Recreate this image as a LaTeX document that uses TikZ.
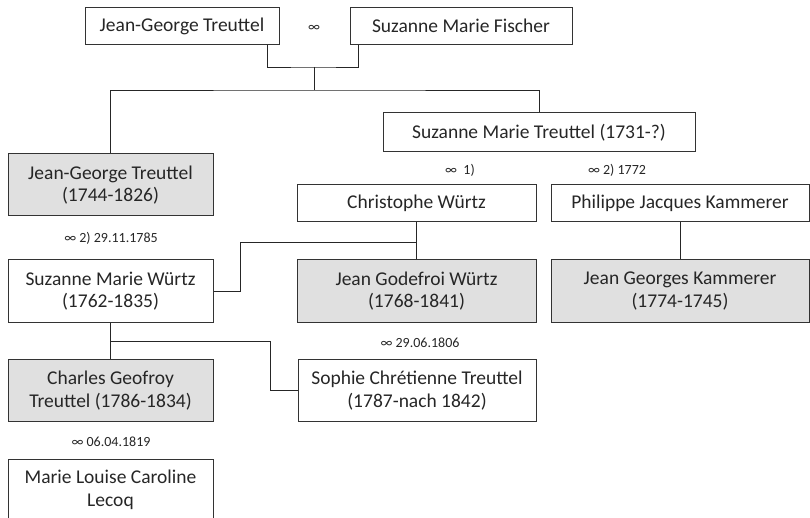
\documentclass[tikz,border=0pt]{standalone}
\usepackage{fontspec}
\setmainfont{Carlito}
\begin{document}
\begin{tikzpicture}[x=1pt,y=-1pt,
      personBox/.style={draw=black!80,line width=1pt,minimum height=37pt,inner sep=0pt,align=center,
        text=black!85,font=\fontsize{19.5}{22.5}\selectfont},
      familyBox/.style={personBox,minimum height=62pt},
      descBox/.style={familyBox,fill=black!12},
      marriageLabel/.style={inner sep=0pt,text=black!85,font=\fontsize{14}{16}\selectfont},
      link/.style={draw=black!85,line width=0.8pt},
    ]
    \useasboundingbox (0,0) rectangle (810,518);
    \clip (0,0) rectangle (810,518);

    % first generation
    \node[personBox,minimum width=194pt] (jgTreuttel) at (182,26) {Jean-George Treuttel};
    \node[marriageLabel] (mTop) at (314,28) {∞};
    \node[personBox,minimum width=222pt] (smFischer) at (461,26) {Suzanne Marie Fischer};

    % their children
    \node[descBox,minimum width=205pt] (jgTreuttelJr) at (110.5,185) {Jean-George Treuttel\\(1744-1826)};
    \node[personBox,minimum width=312pt,minimum height=39pt] (smTreuttel) at (539,132.5) {Suzanne Marie Treuttel (1731-?)};

    % spouses of Suzanne Marie Treuttel
    \node[marriageLabel] (mFirst) at (460,170) {∞\ \ 1)};
    \node[marriageLabel] (mSecond) at (617,170) {∞ 2) 1772};
    \node[personBox,minimum width=239pt] (cWuertz) at (416.5,203.5) {Christophe Würtz};
    \node[personBox,minimum width=258pt] (pjKammerer) at (680,203.5) {Philippe Jacques Kammerer};

    \node[marriageLabel] (mTreuttelJr) at (111,238) {∞ 2) 29.11.1785};
    \node[familyBox,minimum width=205pt] (smWuertz) at (110.5,291) {Suzanne Marie Würtz\\(1762-1835)};
    \node[descBox,minimum width=239pt] (jgWuertz) at (416.5,291) {Jean Godefroi Würtz\\(1768-1841)};
    \node[descBox,minimum width=258pt] (jgKammerer) at (680,291) {Jean Georges Kammerer\\(1774-1745)};

    % grandchildren
    \node[marriageLabel] (mWuertz) at (420,343) {∞ 29.06.1806};
    \node[descBox,minimum width=205pt] (cgTreuttel) at (110.5,390.5) {Charles Geofroy\\Treuttel (1786-1834)};
    \node[familyBox,minimum width=238pt] (scTreuttel) at (417,390.5) {Sophie Chrétienne Treuttel\\(1787-nach 1842)};
    \node[marriageLabel] (mTreuttel) at (111,442) {∞ 06.04.1819};
    \node[familyBox,minimum width=205pt] (mlLecoq) at (110.5,490) {Marie Louise Caroline\\Lecoq};

    % connectors
    \coordinate (parents) at (314,67);
    \coordinate (siblings) at (314,90);
    \coordinate (wuertzKids) at (416.5,242);
    \coordinate (treuttelKids) at (110.5,341);

    \draw[link] ([xshift=-12pt]jgTreuttel.south east) |- (parents) -| ([xshift=9pt]smFischer.south west);
    \draw[link] (parents) -- (siblings);
    \draw[link] (jgTreuttelJr.north) |- (siblings) -| (smTreuttel.north);

    \draw[link] (cWuertz.south) -- (jgWuertz.north);
    \draw[link] (smWuertz.east) -- ++(27,0) |- (wuertzKids);
    \draw[link] (pjKammerer.south) -- (jgKammerer.north);

    \draw[link] (smWuertz.south) -- (cgTreuttel.north);
    \draw[link] (treuttelKids) -| ([xshift=-27pt]scTreuttel.west) -- (scTreuttel.west);
\end{tikzpicture}
\end{document}
